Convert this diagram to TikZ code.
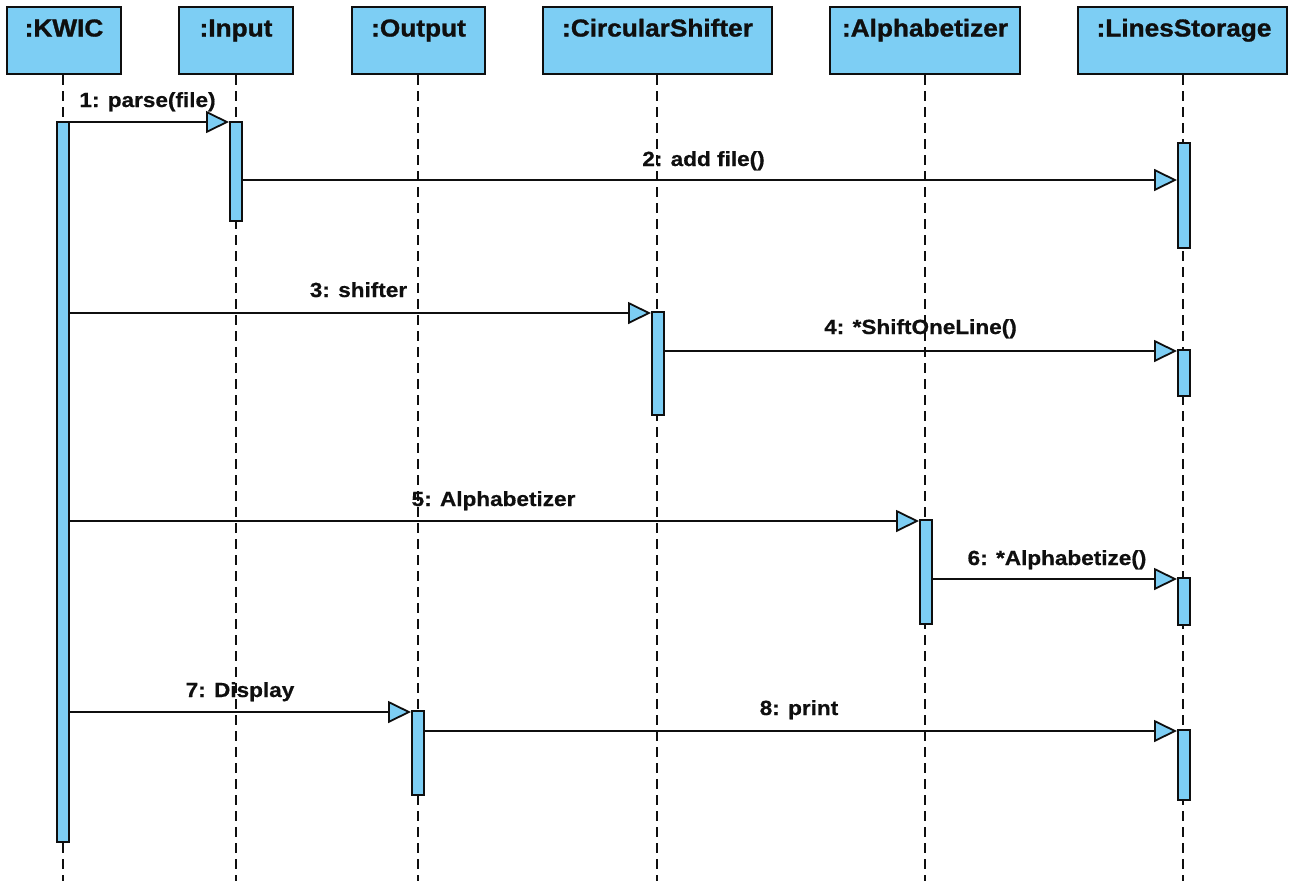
\documentclass[tikz,border=0pt]{standalone}
\usepackage{fontspec}
\setmainfont{Liberation Sans}
\newfontfamily\hdrfont[FakeStretch=1.07,FakeBold=1.2]{Liberation Sans Bold}
\newfontfamily\msgfont[FakeStretch=1.1,FakeBold=0.6]{Liberation Sans Bold}
\usetikzlibrary{arrows.meta}
\definecolor{boxblue}{RGB}{125,206,244}
\definecolor{ink}{RGB}{15,15,15}
\tikzset{
  head/.style={draw=ink, line width=2.2pt, fill=boxblue, inner sep=0pt},
  headtxt/.style={font=\hdrfont\fontsize{24.5}{27}\selectfont, text=ink, inner sep=0pt, anchor=base},
  act/.style={draw=ink, line width=2pt, fill=boxblue, minimum width=12pt, inner sep=0pt},
  life/.style={draw=ink, line width=2pt, dash pattern=on 10pt off 6pt},
  msg/.style={draw=ink, line width=1.8pt, -{Triangle[length=23pt,width=22pt,fill=boxblue]}},
  msgtxt/.style={font=\msgfont\fontsize{20.5}{23}\selectfont, text=ink, inner sep=0pt, anchor=base}
}
\begin{document}
\begin{tikzpicture}[x=1pt,y=-1pt]
\useasboundingbox (0,0) rectangle (1289,881);
\fill[white] (0,0) rectangle (1289,881);
% headers
\node[head, minimum width=114, minimum height=67] (kwic) at (64,40.5) {};
\node[head, minimum width=114, minimum height=67] (inp) at (236,40.5) {};
\node[head, minimum width=133, minimum height=67] (out) at (418.5,40.5) {};
\node[head, minimum width=229, minimum height=67] (cs) at (657.5,40.5) {};
\node[head, minimum width=190, minimum height=67] (alp) at (925,40.5) {};
\node[head, minimum width=209, minimum height=67] (ls) at (1182.5,40.5) {};
\node[headtxt] (tkwic) at (64,36.5) {:KWIC};
\node[headtxt] (tinp) at (236,36.5) {:Input};
\node[headtxt] (tout) at (418.5,36.5) {:Output};
\node[headtxt] (tcs) at (657.5,36.5) {:CircularShifter};
\node[headtxt] (talp) at (925,36.5) {:Alphabetizer};
\node[headtxt] (tls) at (1184,36.5) {:LinesStorage};
% lifeline ends
\coordinate (ekwic) at (63,881);
\coordinate (einp) at (236,881);
\coordinate (eout) at (418,881);
\coordinate (ecs) at (657,881);
\coordinate (ealp) at (925,881);
\coordinate (els) at (1183,881);
\draw[life] (kwic.south -| ekwic) -- (ekwic);
\draw[life] (inp.south -| einp) -- (einp);
\draw[life] (out.south -| eout) -- (eout);
\draw[life] (cs.south -| ecs) -- (ecs);
\draw[life] (alp.south -| ealp) -- (ealp);
\draw[life] (ls.south -| els) -- (els);
% activations
\node[act, minimum height=720] (a1) at (63,482) {};
\node[act, minimum height=99] (a2) at (236,171.5) {};
\node[act, minimum height=105] (l1) at (1184,195.5) {};
\node[act, minimum height=103] (c1) at (658,363.5) {};
\node[act, minimum height=46] (l2) at (1184,373) {};
\node[act, minimum height=104] (p1) at (926,572) {};
\node[act, minimum height=47] (l3) at (1184,601.5) {};
\node[act, minimum height=84] (o1) at (418,753) {};
\node[act, minimum height=70] (l4) at (1184,765) {};
% messages
\draw[msg] (a1.east |- 0,122) -- (a2.west |- 0,122);
\draw[msg] (a2.east |- 0,180) -- (l1.west |- 0,180);
\draw[msg] (a1.east |- 0,313) -- (c1.west |- 0,313);
\draw[msg] (c1.east |- 0,351) -- (l2.west |- 0,351);
\draw[msg] (a1.east |- 0,521) -- (p1.west |- 0,521);
\draw[msg] (p1.east |- 0,579) -- (l3.west |- 0,579);
\draw[msg] (a1.east |- 0,712) -- (o1.west |- 0,712);
\draw[msg] (o1.east |- 0,731) -- (l4.west |- 0,731);
% labels
\node[msgtxt] (m1) at (147.5,107) {1: parse(file)};
\node[msgtxt] (m2) at (703.5,166) {2: add file()};
\node[msgtxt] (m3) at (358.5,297) {3: shifter};
\node[msgtxt] (m4) at (920.5,334) {4: *ShiftOneLine()};
\node[msgtxt] (m5) at (493.5,506) {5: Alphabetizer};
\node[msgtxt] (m6) at (1057,565) {6: *Alphabetize()};
\node[msgtxt] (m7) at (240,697) {7: Display};
\node[msgtxt] (m8) at (799,715) {8: print};
\end{tikzpicture}
\end{document}
